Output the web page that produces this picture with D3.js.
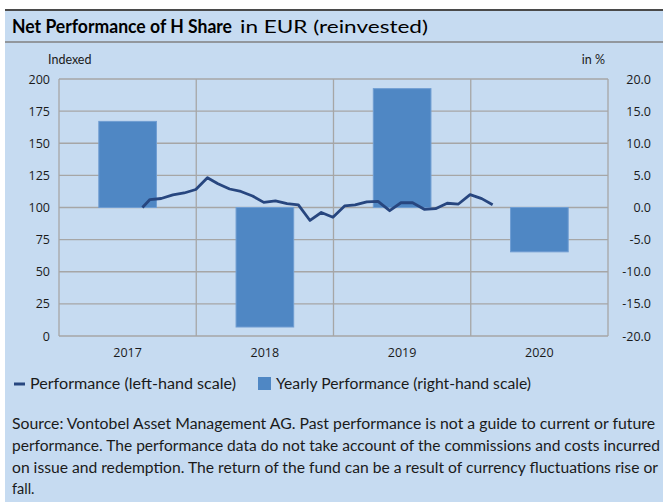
<!DOCTYPE html>
<html><head><meta charset="utf-8">
<script src="https://cdn.jsdelivr.net/npm/d3@7"></script>
<style>body{margin:0;background:#fff}svg{display:block}</style>
</head><body><svg id="c" width="663" height="502"></svg>
<script>
const years = ["2017", "2018", "2019", "2020"];
const yearlyPerf = [13.4, -18.6, 18.5, -6.9];
const perfDates = ["2017-08-11","2017-08-31","2017-09-30","2017-10-31","2017-11-30","2017-12-31",
  "2018-01-31","2018-02-28","2018-03-31","2018-04-30","2018-05-31","2018-06-30","2018-07-31","2018-08-31","2018-09-30","2018-10-31","2018-11-30","2018-12-31",
  "2019-01-31","2019-02-28","2019-03-31","2019-04-30","2019-05-31","2019-06-30","2019-07-31","2019-08-31","2019-09-30","2019-10-31","2019-11-30","2019-12-31",
  "2020-01-31","2020-02-29"];
const perfValues = [100, 106.2, 107, 109.8, 111.3, 114,
  123.2, 118.5, 114.4, 112.5, 109, 104, 105.2, 103.1, 102, 89.9, 96.1, 92.4,
  101.2, 102, 104.3, 104.8, 97.5, 103.7, 103.7, 98.6, 99.1, 103.3, 102.7, 110,
  106.9, 102.2];
const leftTicks = [0, 25, 50, 75, 100, 125, 150, 175, 200];
const rightTicks = [-20, -15, -10, -5, 0, 5, 10, 15, 20];
const titleBold = "Net Performance of H Share";
const titleRest = "in EUR (reinvested)";
const leftLabel = "Indexed";
const rightLabel = "in %";
const legendLine = "Performance (left-hand scale)";
const legendBar = "Yearly Performance (right-hand scale)";
const sourceLines = [
  "Source: Vontobel Asset Management AG. Past performance is not a guide to current or future",
  "performance. The performance data do not take account of the commissions and costs incurred",
  "on issue and redemption. The return of the fund can be a result of currency fluctuations rise or",
  "fall."
];

const BG = "#c6dbf1", GRID = "#a6a6a6", BAR = "#4f87c4", LINE = "#27467f", TXT = "#1a1a1a";
const svg = d3.select("#c");
const L = 59, R = 608, T = 79, B = 336;

svg.append("rect").attr("x", 5).attr("y", 10).attr("width", 658).attr("height", 492).attr("fill", BG);
svg.append("line").attr("x1", 5).attr("x2", 663).attr("y1", 10).attr("y2", 10).attr("stroke", "#4a4a4a").attr("stroke-width", 2);
svg.append("line").attr("x1", 5).attr("x2", 663).attr("y1", 42).attr("y2", 42).attr("stroke", "#808080").attr("stroke-width", 1.5);

svg.append("text").attr("x", 12).attr("y", 33).attr("font-family", "Lato").attr("font-weight", "bold")
  .attr("font-size", 18).attr("fill", "#000").attr("textLength", 220).attr("lengthAdjust", "spacingAndGlyphs").text(titleBold);
svg.append("text").attr("x", 240).attr("y", 33).attr("font-family", "Lato")
  .attr("font-size", 18).attr("fill", "#000").attr("textLength", 188).attr("lengthAdjust", "spacingAndGlyphs").text(titleRest);

const xBand = d3.scaleBand().domain(years).range([L, R]).padding(0);
const xBar = d3.scaleBand().domain(years).range([L, R]).paddingInner(0.58).paddingOuter(0.29);
const xTime = d3.scaleUtc().domain([new Date(Date.UTC(2017, 0, 1)), new Date(Date.UTC(2021, 0, 1))]).range([L, R]);
const yL = d3.scaleLinear().domain([0, 200]).range([B, T]);
const yR = d3.scaleLinear().domain([-20, 20]).range([B, T]);

// grid
svg.append("g").selectAll("line").data(leftTicks).join("line")
  .attr("x1", L).attr("x2", R).attr("y1", d => yL(d)).attr("y2", d => yL(d))
  .attr("stroke", GRID).attr("stroke-width", 1.3);
const vb = years.map(y => xBand(y)).concat([R]);
svg.append("g").selectAll("line").data(vb).join("line")
  .attr("x1", d => d).attr("x2", d => d).attr("y1", T).attr("y2", B)
  .attr("stroke", GRID).attr("stroke-width", 1.3);

// bars
svg.append("g").selectAll("rect").data(years).join("rect")
  .attr("x", d => xBar(d)).attr("width", xBar.bandwidth())
  .attr("y", (d, i) => Math.min(yR(0), yR(yearlyPerf[i])))
  .attr("height", (d, i) => Math.abs(yR(yearlyPerf[i]) - yR(0)))
  .attr("fill", BAR).attr("stroke", "#6f9dd2").attr("stroke-width", 1);

// line
const pts = perfDates.map((d, i) => [new Date(d + "T00:00:00Z"), perfValues[i]]);
svg.append("path").datum(pts)
  .attr("d", d3.line().x(d => xTime(d[0])).y(d => yL(d[1])))
  .attr("fill", "none").attr("stroke", LINE).attr("stroke-width", 2.8).attr("stroke-linejoin", "round");

// left axis
const ax = svg.append("g").attr("transform", `translate(${L},0)`)
  .call(d3.axisLeft(yL).tickValues(leftTicks).tickSize(0).tickPadding(9));
ax.select(".domain").remove();
ax.selectAll("text").attr("font-family", "Open Sans").attr("font-size", 12.5).attr("fill", TXT);

// right axis
const axr = svg.append("g").attr("transform", `translate(${R},0)`)
  .call(d3.axisRight(yR).tickValues(rightTicks).tickSize(0).tickFormat(d => d.toFixed(1)));
axr.select(".domain").remove();
axr.selectAll("text").attr("x", 43).attr("text-anchor", "end").attr("font-family", "Open Sans").attr("font-size", 12.5).attr("fill", TXT);

// x labels
const axb = svg.append("g").attr("transform", `translate(0,${B})`)
  .call(d3.axisBottom(xBand).tickSize(0).tickPadding(12));
axb.select(".domain").remove();
axb.selectAll("text").attr("font-family", "Open Sans").attr("font-size", 12.5).attr("fill", TXT);

svg.append("text").attr("x", 48).attr("y", 64).attr("font-family", "Lato").attr("font-size", 12.5).attr("fill", TXT).text(leftLabel);
svg.append("text").attr("x", 605).attr("y", 64).attr("text-anchor", "end").attr("font-family", "Lato").attr("font-size", 12.5).attr("fill", TXT).text(rightLabel);

// legend
svg.append("line").attr("x1", 14).attr("x2", 25).attr("y1", 384).attr("y2", 384).attr("stroke", LINE).attr("stroke-width", 3);
svg.append("text").attr("x", 30).attr("y", 389).attr("font-family", "Lato").attr("font-size", 14.5).attr("fill", TXT)
  .attr("textLength", 206).attr("lengthAdjust", "spacingAndGlyphs").text(legendLine);
svg.append("rect").attr("x", 258).attr("y", 377).attr("width", 13).attr("height", 13).attr("fill", BAR);
svg.append("text").attr("x", 276).attr("y", 389).attr("font-family", "Lato").attr("font-size", 14.5).attr("fill", TXT)
  .attr("textLength", 255).attr("lengthAdjust", "spacingAndGlyphs").text(legendBar);

// source
const srcLen = [643, 648, 646, null];
sourceLines.forEach((s, i) => {
  const t = svg.append("text").attr("x", 12).attr("y", 429 + i * 21.8).attr("font-family", "Lato")
    .attr("font-size", 14.5).attr("fill", TXT).text(s);
  if (srcLen[i]) t.attr("textLength", srcLen[i]).attr("lengthAdjust", "spacingAndGlyphs");
});
</script></body></html>
